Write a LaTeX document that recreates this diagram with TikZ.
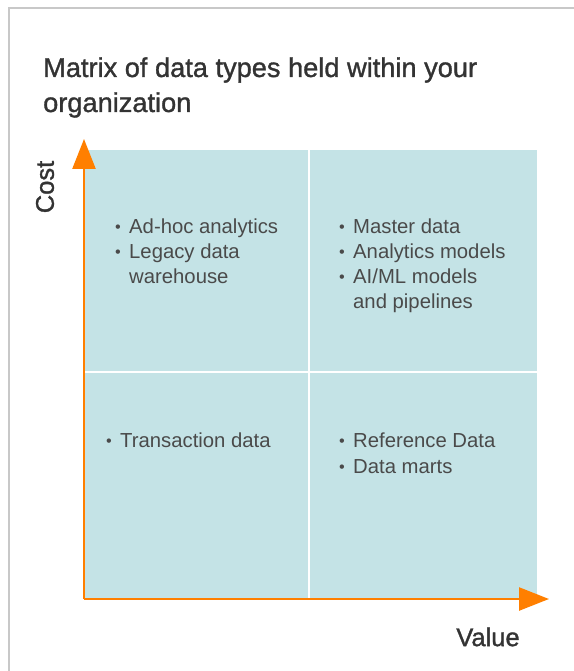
\documentclass[tikz,border=0pt]{standalone}
\usepackage{fontspec}
\setmainfont{Liberation Sans}
\newfontfamily\titlefont[FakeBold=1.2]{Liberation Sans}
\usetikzlibrary{arrows.meta}
\definecolor{quad}{HTML}{C4E3E6}
\definecolor{axis}{HTML}{FF7F00}
\definecolor{frame}{HTML}{C8C8C8}
\definecolor{titlegray}{HTML}{333333}
\definecolor{itemgray}{HTML}{4A4A4A}
\newcommand\itembul{\makebox[14pt][l]{\raisebox{1pt}{\scalebox{0.8}{\textbullet}}}}
\tikzset{
  quadrant/.style={fill=quad, draw=none},
  axisline/.style={draw=axis, line width=2.5pt, -{Triangle[length=30pt,width=23pt]}},
  itemline/.style={anchor=base west, inner sep=0pt, text=itemgray,
    font=\fontsize{20.3}{25}\selectfont},
  titleline/.style={anchor=base west, inner sep=0pt, text=titlegray,
    font=\titlefont\fontsize{27.2}{35}\selectfont},
  axislabel/.style={inner sep=0pt, text=titlegray, font=\titlefont\fontsize{25.5}{30}\selectfont}
}
\begin{document}
\begin{tikzpicture}[x=1pt, y=-1pt]
\useasboundingbox (0,0) rectangle (573,671);
% outer panel edges
\draw[frame, line width=2pt] (8.5,675) -- (8.5,8.5) -- (577,8.5);

% title
\node[titleline] (title1) at (43,77) {Matrix of data types held within your};
\node[titleline] (title2) at (43,112) {organization};

% four quadrants
\fill[quadrant] (85,150) rectangle (308,371);
\fill[quadrant] (310,150) rectangle (537,371);
\fill[quadrant] (85,373) rectangle (308,598);
\fill[quadrant] (310,373) rectangle (537,598);

% axes
\coordinate (origin) at (84,599);
\coordinate (ytip) at (84,139);
\coordinate (xtip) at (549,599);
\draw[axisline] (origin) -- (ytip);
\draw[axisline] (origin) -- (xtip);

\node[axislabel, rotate=90] (cost) at (45,187) {Cost};
\node[axislabel] (value) at (488,637) {Value};

% top left
\node[itemline] (tl1) at (115,233) {\itembul Ad-hoc analytics};
\node[itemline] (tl2) at (115,258) {\itembul Legacy data};
\node[itemline] (tl3) at (129,283) {warehouse};

% top right
\node[itemline] (tr1) at (339,233) {\itembul Master data};
\node[itemline] (tr2) at (339,258) {\itembul Analytics models};
\node[itemline] (tr3) at (339,283) {\itembul AI/ML models};
\node[itemline] (tr4) at (353,308) {and pipelines};

% bottom left
\node[itemline] (bl1) at (106,447) {\itembul Transaction data};

% bottom right
\node[itemline] (br1) at (339,447) {\itembul Reference Data};
\node[itemline] (br2) at (339,473) {\itembul Data marts};
\end{tikzpicture}
\end{document}
